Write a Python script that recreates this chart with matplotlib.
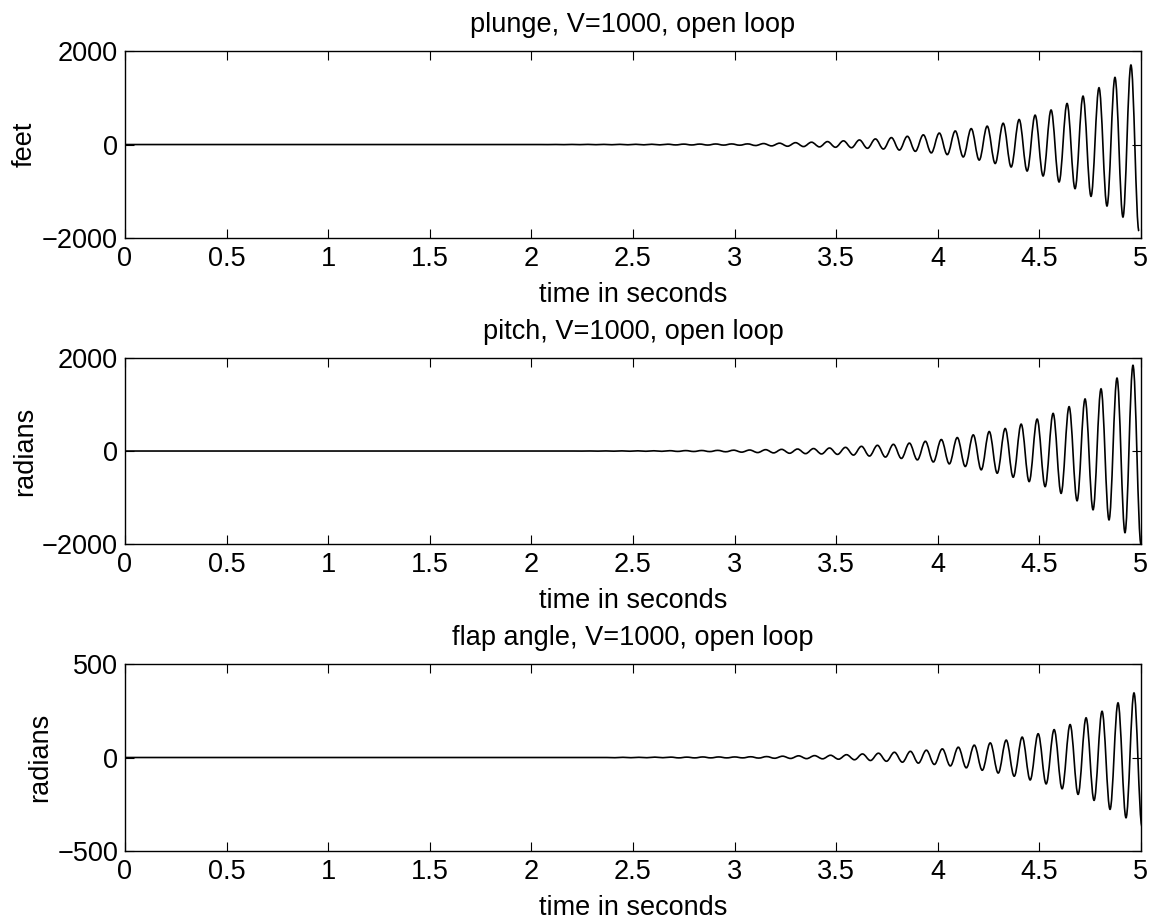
import numpy as np
import matplotlib.pyplot as plt
from matplotlib.path import Path
from matplotlib.patches import PathPatch

plt.rcParams['font.family'] = ['Liberation Sans', 'DejaVu Sans']

# time between a peak and the following trough (s), and time of the last extreme
half_period = 0.0393
t_last = [4.99, 5.0, 5.005]

# successive extremes (peak, trough, ...), earliest first
plunge_ext = [-1, 1, -2, 2, -2, 3, -3, 3, -4, 4, -5, 5, -6, 6, -7, 7, -8, 9, -9, 10, -11, 12, -12, 13,
              -14, 14, -21, 21, -29, 29, -36, 40, -43, 50, -50, 63, -58, 79, -68, 98, -80, 120,
              -96, 148, -118, 176, -145, 207, -178, 245, -215, 290, -265, 340, -332, 393,
              -405, 455, -480, 535, -566, 628, -672, 738, -800, 878, -943, 1035, -1107, 1214,
              -1314, 1435, -1550, 1700, -1850]
pitch_ext = [-1, 1, -2, 2, -3, 3, -4, 4, -5, 5, -6, 7, -8, 9, -10, 11, -12, 14, -16, 18,
             -24, 22, -33, 29, -40, 36, -48, 43, -56, 53, -63, 65, -72, 79, -87, 101, -108, 123,
             -130, 144, -159, 170, -190, 209, -235, 247, -276, 289, -332, 347, -404, 419,
             -477, 484, -563, 578, -657, 686, -765, 809, -910, 953, -1069, 1119, -1263, 1336,
             -1480, 1567, -1754, 1841, -2005]
flap_ext = [-1, 1, -1, 1, -1, 2, -1, 2, -2, 2, -2, 3, -2, 3, -2, 3,
            -2, 4, -3, 5, -4, 7, -5, 9, -6, 10, -7, 12, -9, 15, -12, 19, -16, 23, -20, 28,
            -25, 33, -30, 39, -37, 46, -45, 55, -55, 66, -68, 78, -83, 93, -100, 109,
            -120, 127, -141, 149, -167, 176, -197, 212, -229, 247, -277, 292, -322, 345, -368]

titles = ['plunge, V=1000, open loop', 'pitch, V=1000, open loop',
          'flap angle, V=1000, open loop']
ylabels = ['feet', 'radians', 'radians']
ylims = [2000, 2000, 500]
xticks = [0, 0.5, 1, 1.5, 2, 2.5, 3, 3.5, 4, 4.5, 5]
xticklabels = ['0', '0.5', '1', '1.5', '2', '2.5', '3', '3.5', '4', '4.5', '5']

fs = 19.5
fig = plt.figure(figsize=(11.54, 9.23), dpi=100)
boxes = [[0.1083, 0.7421, 0.8804, 0.2026],
         [0.1083, 0.4106, 0.8804, 0.2015],
         [0.1083, 0.0780, 0.8804, 0.2026]]

for k, ext in enumerate([plunge_ext, pitch_ext, flap_ext]):
    ax = fig.add_axes(boxes[k])
    n = len(ext)
    t = t_last[k] - half_period * np.arange(n)[::-1]
    # smooth half-cycles between the read extremes (cubic bezier)
    verts = [(0, 0), (t[0] - half_period, 0)]
    codes = [Path.MOVETO, Path.LINETO]
    prev = (t[0] - half_period, 0)
    for ti, yi in zip(t, ext):
        d = ti - prev[0]
        verts += [(prev[0] + 0.36 * d, prev[1]), (ti - 0.36 * d, yi), (ti, yi)]
        codes += [Path.CURVE4] * 3
        prev = (ti, yi)
    ax.add_patch(PathPatch(Path(verts, codes), fill=False, edgecolor='black', lw=1.2))

    ax.set_xlim(0, 5)
    ax.set_ylim(-ylims[k], ylims[k])
    ax.set_xticks(xticks)
    ax.set_xticklabels(xticklabels)
    ax.set_yticks([-ylims[k], 0, ylims[k]])
    ax.tick_params(direction='in', top=True, right=True, length=6.5, width=0.8,
                   labelsize=fs)
    ax.tick_params(axis='x', pad=6)
    ax.tick_params(axis='y', pad=5)
    for s in ax.spines.values():
        s.set_linewidth(1.0)
    ax.set_xlabel('time in seconds', fontsize=fs, labelpad=7)
    ax.set_ylabel(ylabels[k], fontsize=fs, labelpad=3)
    ax.set_title(titles[k], fontsize=fs, pad=14)

fig.savefig('out.png', dpi=100)
